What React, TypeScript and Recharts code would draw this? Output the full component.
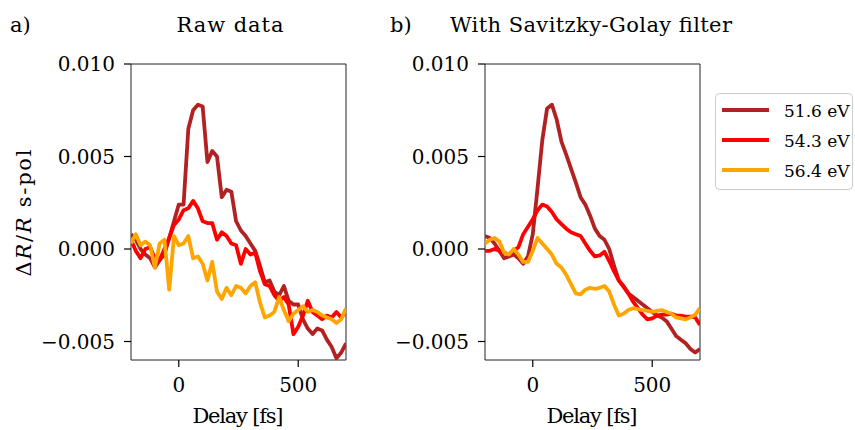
import { LineChart, Line, XAxis, YAxis, ReferenceArea } from 'recharts';

// pump-probe delay in fs
const delays = [
    -200, -180, -160, -140, -120, -100, -80, -60, -40, -20,
    0, 20, 40, 60, 80, 100, 120, 140, 160, 180,
    200, 220, 240, 260, 280, 300, 320, 340, 360, 380,
    400, 420, 440, 460, 480, 500, 520, 540, 560, 580,
    600, 620, 640, 660, 680, 700,
];

// raw dR/R, s-pol
const raw516 = [
    0.0008, 0.0005, 0.0000, -0.0003, -0.0005, -0.0010, -0.0006, -0.0003, 0.0006, 0.0015,
    0.0024, 0.0024, 0.0065, 0.0075, 0.0078, 0.0077, 0.0047, 0.0053, 0.0050, 0.0028,
    0.0032, 0.0031, 0.0015, 0.0010, 0.0007, 0.0003, -0.0001, -0.0009, -0.0018, -0.0017,
    -0.0023, -0.0025, -0.0020, -0.0028, -0.0030, -0.0030, -0.0038, -0.0043, -0.0046, -0.0043,
    -0.0044, -0.0049, -0.0053, -0.0059, -0.0056, -0.0051,
];
const raw543 = [
    0.0005, -0.0001, -0.0005, 0.0000, 0.0001, -0.0005, -0.0006, 0.0000, 0.0006, 0.0013,
    0.0016, 0.0021, 0.0022, 0.0026, 0.0022, 0.0015, 0.0014, 0.0014, 0.0005, 0.0009,
    0.0007, 0.0003, 0.0002, -0.0008, 0.0000, -0.0003, -0.0002, -0.0012, -0.0019, -0.0020,
    -0.0025, -0.0028, -0.0026, -0.0030, -0.0046, -0.0042, -0.0036, -0.0028, -0.0034, -0.0036,
    -0.0038, -0.0036, -0.0037, -0.0034, -0.0037, -0.0034,
];
const raw564 = [
    0.0003, 0.0008, 0.0002, 0.0004, 0.0002, -0.0010, 0.0003, 0.0005, -0.0022, 0.0007,
    0.0002, 0.0003, 0.0007, -0.0005, -0.0004, -0.0008, -0.0017, -0.0007, -0.0023, -0.0027,
    -0.0021, -0.0025, -0.0020, -0.0021, -0.0024, -0.0020, -0.0018, -0.0029, -0.0037, -0.0036,
    -0.0034, -0.0026, -0.0033, -0.0039, -0.0035, -0.0033, -0.0031, -0.0034, -0.0033, -0.0034,
    -0.0036, -0.0037, -0.0038, -0.0040, -0.0038, -0.0032,
];

// after Savitzky-Golay smoothing
const sg516 = [
    0.0007, 0.0006, 0.0003, -0.0001, -0.0005, -0.0004, -0.0003, -0.0005, -0.0008, -0.0004,
    0.0008, 0.0033, 0.0059, 0.0076, 0.0078, 0.0070, 0.0058, 0.0051, 0.00435, 0.0036,
    0.0028, 0.0024, 0.0018, 0.0011, 0.0007, 0.0005, 0.0000, -0.0009, -0.0017, -0.0020,
    -0.0024, -0.0026, -0.0028, -0.0030, -0.0032, -0.0034, -0.0036, -0.0037, -0.0039, -0.0043,
    -0.0047, -0.0049, -0.0051, -0.0054, -0.0056, -0.0054,
];
const sg543 = [
    -0.0001, -0.0001, 0.0000, -0.0001, -0.0002, -0.0003, -0.0001, 0.0001, 0.0008, 0.0012,
    0.0016, 0.0021, 0.0024, 0.0023, 0.0020, 0.0016, 0.00135, 0.0011, 0.0009, 0.0008,
    0.0007, 0.0003, -0.0001, -0.0004, -0.00035, -0.00015, -0.00065, -0.0012, -0.0017, -0.00205,
    -0.0024, -0.00285, -0.0032, -0.00355, -0.0038, -0.00375, -0.0036, -0.00355, -0.00355, -0.0035,
    -0.0036, -0.0036, -0.00365, -0.00365, -0.0037, -0.0041,
];
const sg564 = [
    0.0003, 0.0005, 0.0006, 0.0004, -0.0002, -0.0003, 0.0000, -0.0003, -0.0007, -0.0007,
    -0.0001, 0.0006, 0.0003, 0.0000, -0.0003, -0.0008, -0.0010, -0.0014, -0.0019, -0.0024,
    -0.00245, -0.0022, -0.0021, -0.00215, -0.0021, -0.0020, -0.0023, -0.0030, -0.0036, -0.0035,
    -0.0033, -0.0032, -0.00325, -0.0033, -0.00335, -0.0034, -0.00335, -0.0033, -0.0034, -0.0035,
    -0.0037, -0.00375, -0.0038, -0.0037, -0.00355, -0.0032,
];

const series = [
    { key: 'e516', label: '51.6 eV', color: '#b22222' },
    { key: 'e543', label: '54.3 eV', color: '#ff0000' },
    { key: 'e564', label: '56.4 eV', color: '#ffa500' },
];

const yTicks = [-0.005, 0, 0.005, 0.01];
const xTicks = [0, 500];

const rawRows = delays.map((d, i) => ({ delay: d, e516: raw516[i], e543: raw543[i], e564: raw564[i] }));
const sgRows = delays.map((d, i) => ({ delay: d, e516: sg516[i], e543: sg543[i], e564: sg564[i] }));

const SERIF = 'DejaVu Serif';
const serif = { fontFamily: SERIF };

const fmtY = (v: number) => (v < 0 ? '\u2212' : '') + Math.abs(v).toFixed(3);

const XTick = (p: any) => (
    <text x={p.x} y={p.y} dy={23} textAnchor="middle" fontFamily={SERIF} fontSize={20} fill="#000">
        {p.payload.value}
    </text>
);

const YTick = (p: any) => (
    <text x={p.x} y={p.y} dy={7} textAnchor="end" fontFamily={SERIF} fontSize={20} fill="#000">
        {fmtY(p.payload.value)}
    </text>
);

const Panel = ({ rows, left, width, axisWidth }: { rows: any[]; left: number; width: number; axisWidth: number }) => (
    <div style={{ position: 'absolute', left, top: 0 }}>
        <LineChart width={width} height={430} data={rows} margin={{ top: 64, right: width - axisWidth - 215, bottom: 0, left: 0 }}>
            <XAxis
                dataKey="delay"
                type="number"
                domain={[-200, 700]}
                ticks={xTicks}
                allowDataOverflow
                height={70}
                axisLine={false}
                tickLine={{ stroke: '#000', strokeWidth: 1.2 }}
                tickSize={7}
                tick={XTick}
            />
            <YAxis
                type="number"
                domain={[-0.006, 0.01]}
                ticks={yTicks}
                allowDataOverflow
                width={axisWidth}
                axisLine={false}
                tickLine={{ stroke: '#000', strokeWidth: 1.2 }}
                tickSize={7}
                tickMargin={9}
                tick={YTick}
            />
            {series.map(s => (
                <Line
                    key={s.key}
                    dataKey={s.key}
                    stroke={s.color}
                    strokeWidth={3.8}
                    strokeLinejoin="round"
                    dot={false}
                    isAnimationActive={false}
                />
            ))}
            {/* axes frame */}
            <ReferenceArea x1={-200} x2={700} y1={-0.006} y2={0.01} fill="none" stroke="#222" strokeWidth={1} />
        </LineChart>
    </div>
);

export default function App() {
    return (
        <div style={{ position: 'absolute', left: 0, top: 0, width: 855, height: 430, background: '#fff', overflow: 'hidden', ...serif }}>
            <Panel rows={rawRows} left={0} width={420} axisWidth={131} />
            <Panel rows={sgRows} left={380} width={340} axisWidth={105} />

            <svg width={855} height={430} style={{ position: 'absolute', left: 0, top: 0, pointerEvents: 'none' }}>
                <g fontFamily={SERIF} fill="#000">
                    <text x={10} y={32} fontSize={21}>a)</text>
                    <text x={230} y={32} fontSize={21} textAnchor="middle" textLength={107} lengthAdjust="spacing">Raw data</text>
                    <text x={390} y={32} fontSize={21}>b)</text>
                    <text x={591} y={32} fontSize={21} textAnchor="middle" textLength={282} lengthAdjust="spacing">
                        With Savitzky-Golay filter
                    </text>

                    <text x={238} y={423} fontSize={21} textAnchor="middle" textLength={91} lengthAdjust="spacing">Delay [fs]</text>
                    <text x={592} y={423} fontSize={21} textAnchor="middle" textLength={91} lengthAdjust="spacing">Delay [fs]</text>

                    <text transform="translate(31,213) rotate(-90)" fontSize={21} textAnchor="middle" textLength={127} lengthAdjust="spacing">
                        {'\u0394'}<tspan fontStyle="italic">R</tspan>/<tspan fontStyle="italic">R</tspan> s-pol
                    </text>
                </g>

                {/* legend */}
                <rect x={715.5} y={93.5} width={137} height={96} rx={4} fill="#fff" stroke="#cccccc" strokeWidth={1} />
                {series.map((s, i) => (
                    <g key={s.key}>
                        <line x1={722} x2={769} y1={110 + i * 30} y2={110 + i * 30} stroke={s.color} strokeWidth={3.8} />
                        <text x={784} y={117 + i * 30} fontFamily={SERIF} fontSize={17} fill="#000">{s.label}</text>
                    </g>
                ))}
            </svg>
        </div>
    );
}
